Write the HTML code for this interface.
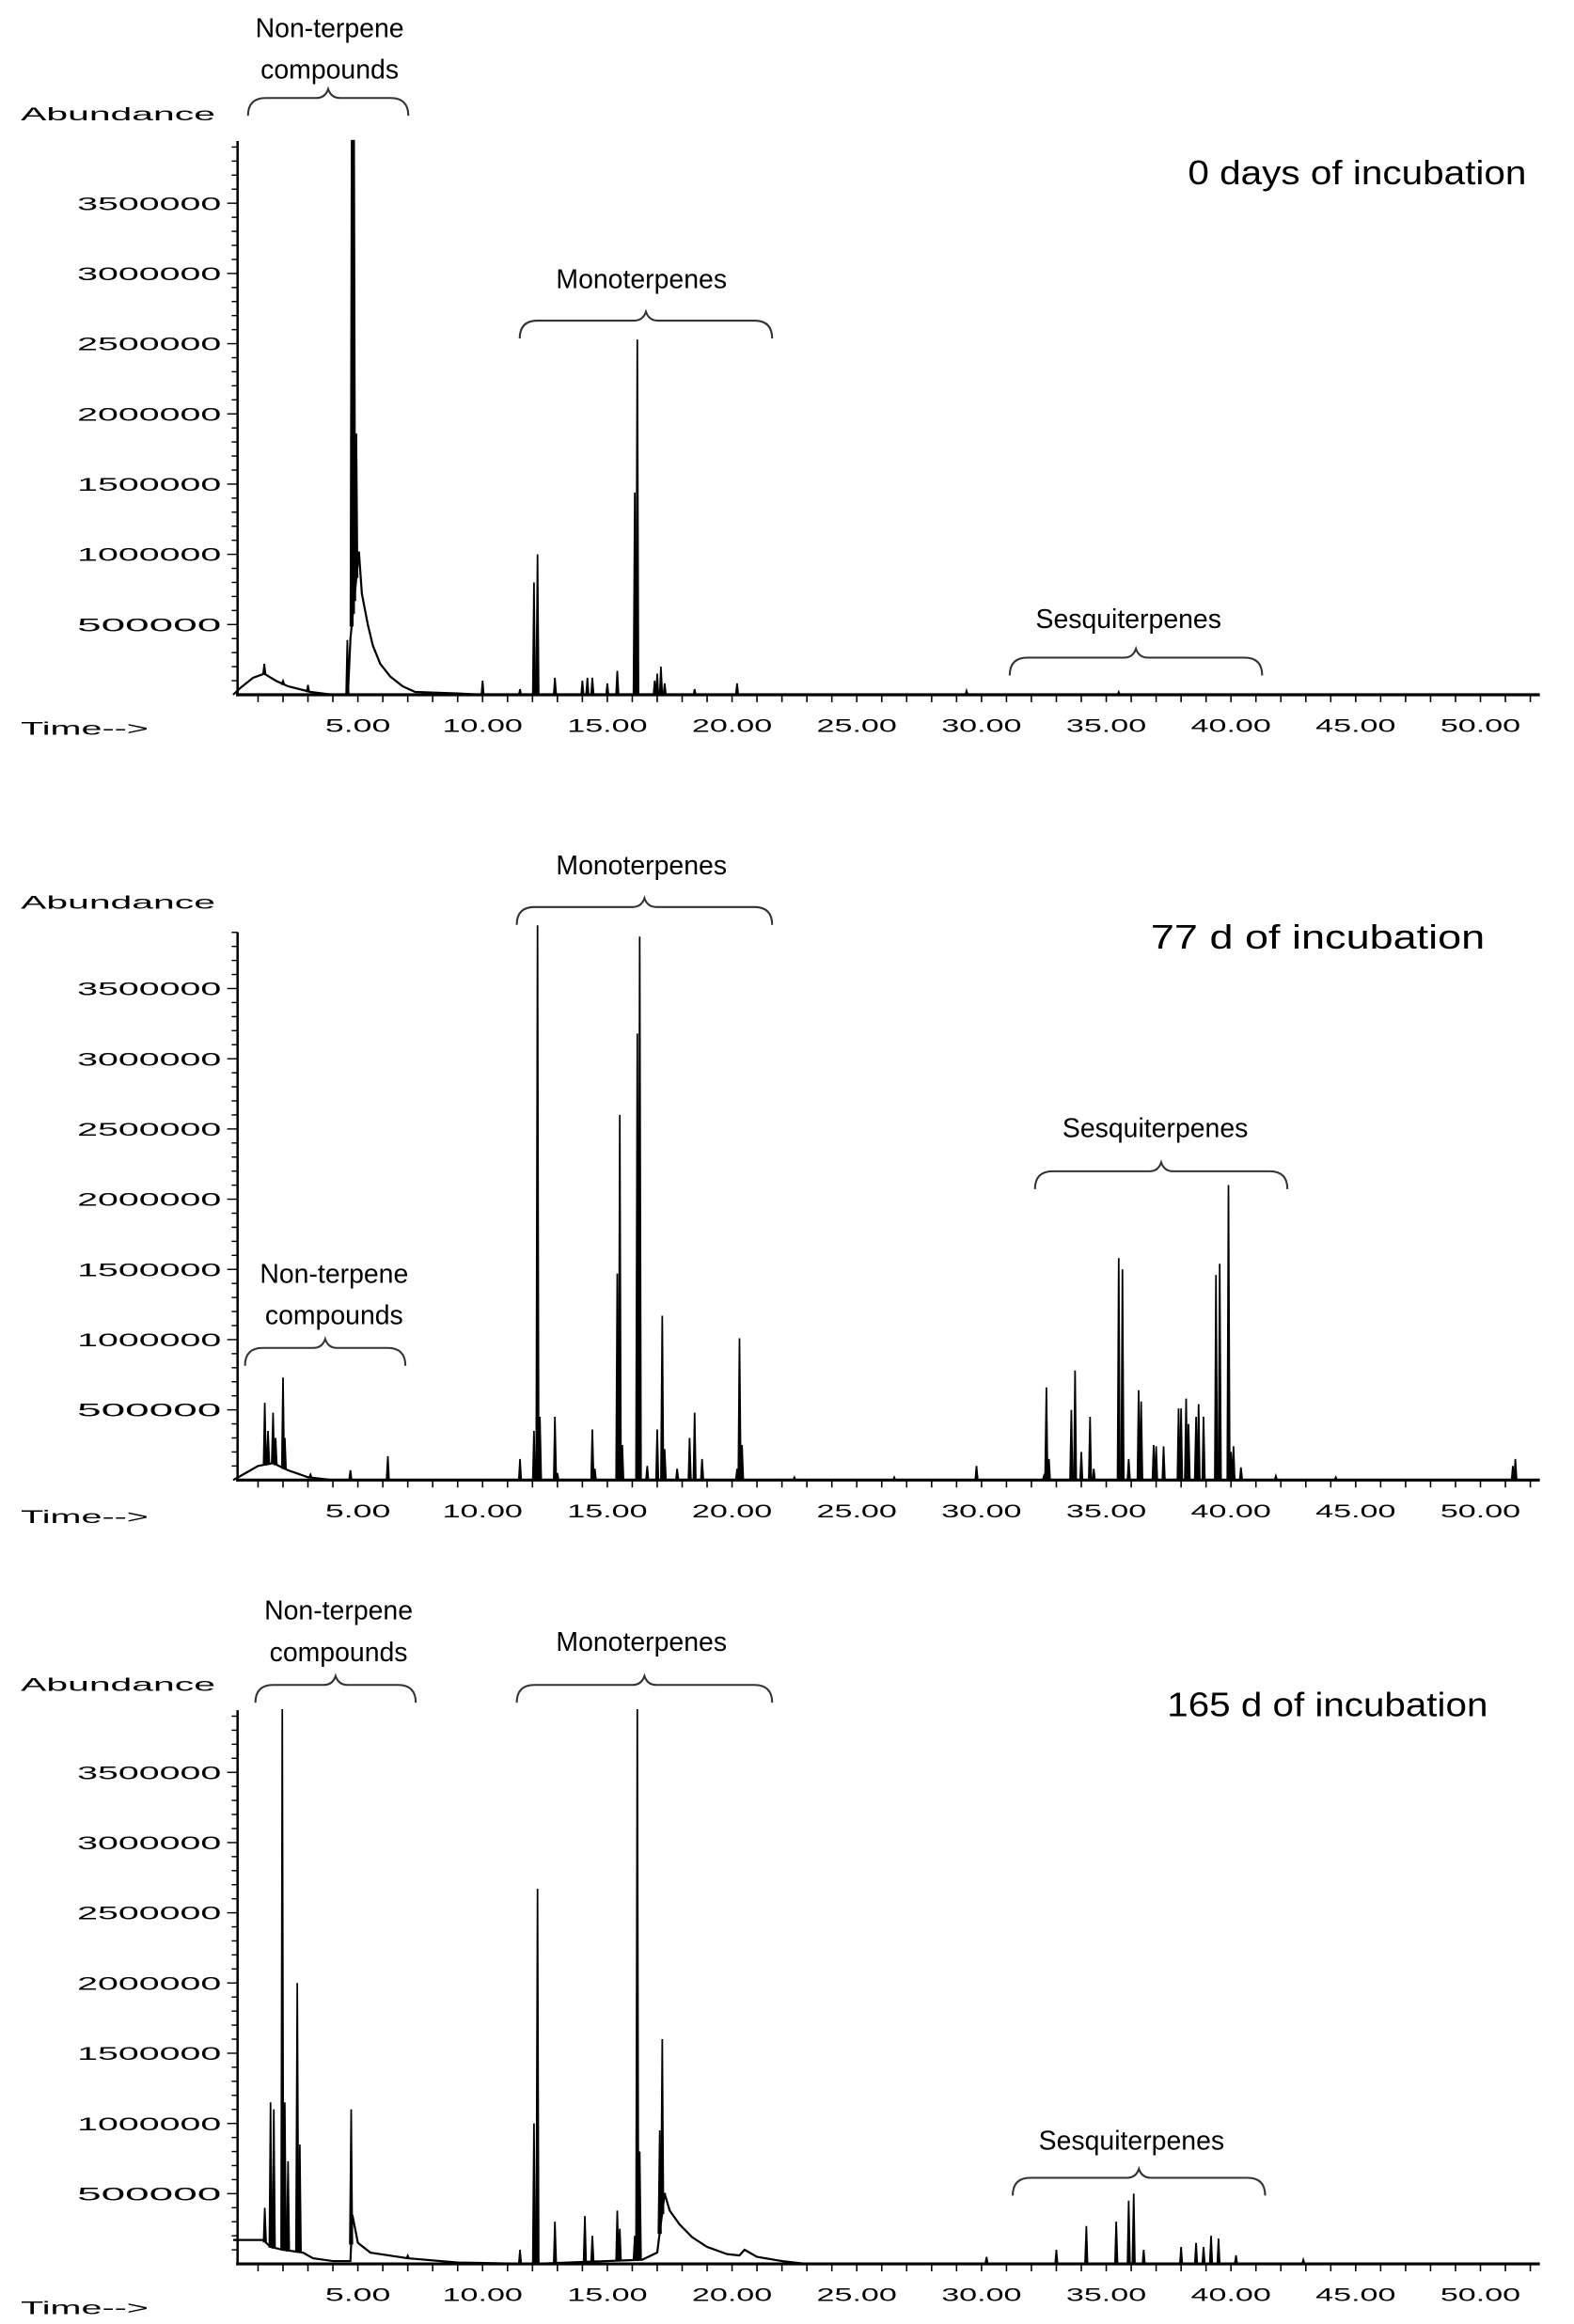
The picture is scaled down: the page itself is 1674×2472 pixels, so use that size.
<!DOCTYPE html>
<html><head><meta charset="utf-8"><style>
html,body{margin:0;padding:0;background:#fff;}
svg{display:block;}
text{font-family:"Liberation Sans",sans-serif;fill:#000;}
</style></head><body>
<svg id="chart" width="1674" height="2472" viewBox="0 0 1060 1565.5" preserveAspectRatio="none" xmlns="http://www.w3.org/2000/svg"></svg>
<script>
// ---- data (time in min, abundance in millions) ----
const xTicksLabeled = [5,10,15,20,25,30,35,40,45,50];
const yTicks = [0.5,1.0,1.5,2.0,2.5,3.0,3.5];
const yTickLabels = ["500000","1000000","1500000","2000000","2500000","3000000","3500000"];
const panelTitles = ["0 days of incubation","77 d of incubation","165 d of incubation"];

const base0 = [[0,0],[0.3,0.05],[0.8,0.12],[1.25,0.15],[1.7,0.1],[2.2,0.06],[3.1,0.02],[4.0,0],[4.6,0],[4.7,0.4],[5.04,1.02],[5.16,0.72],[5.4,0.5],[5.6,0.35],[5.9,0.22],[6.3,0.13],[6.8,0.06],[7.3,0.02],[9,0.01],[10,0],[52,0]];
const peaks0 = [[1.25,0.22],[2.0,0.1],[3.0,0.07],[4.58,0.39],[4.75,3.95],[4.8,3.95],[4.85,3.95],[4.94,1.86],[10.0,0.1],[11.5,0.04],[12.06,0.8],[12.2,1.0],[12.9,0.12],[14.0,0.1],[14.2,0.12],[14.4,0.12],[15.0,0.08],[15.4,0.17],[16.1,1.44],[16.2,2.53],[16.9,0.1],[17.0,0.15],[17.15,0.2],[17.3,0.08],[18.5,0.04],[20.2,0.08],[29.4,0.03],[35.5,0.02]];

const base1 = [[0,0],[0.5,0.05],[1.0,0.1],[1.6,0.12],[2.2,0.07],[3.0,0.02],[4.0,0],[52,0]];
const peaks1 = [[1.27,0.55],[1.4,0.35],[1.6,0.48],[1.7,0.3],[2.0,0.73],[2.07,0.3],[3.1,0.04],[4.7,0.07],[6.2,0.17],[11.5,0.15],[12.06,0.35],[12.2,3.95],[12.3,0.45],[12.9,0.45],[13.0,0.05],[14.4,0.36],[14.5,0.08],[15.4,1.47],[15.5,2.6],[15.6,0.25],[16.2,3.18],[16.3,3.87],[16.6,0.1],[17.0,0.36],[17.2,1.17],[17.3,0.22],[17.8,0.08],[18.3,0.3],[18.5,0.48],[18.8,0.15],[20.2,0.08],[20.3,1.01],[20.4,0.25],[22.5,0.02],[26.5,0.02],[29.8,0.1],[32.5,0.03],[32.6,0.66],[32.7,0.15],[33.6,0.5],[33.75,0.78],[34.0,0.2],[34.35,0.45],[34.5,0.08],[35.5,1.58],[35.65,1.5],[35.9,0.15],[36.3,0.64],[36.4,0.56],[36.9,0.25],[37.0,0.24],[37.3,0.24],[37.9,0.51],[38.0,0.51],[38.2,0.58],[38.3,0.4],[38.6,0.45],[38.7,0.54],[38.9,0.45],[39.4,1.46],[39.55,1.54],[39.9,2.1],[40.0,0.2],[40.1,0.24],[40.4,0.09],[41.8,0.03],[44.2,0.02],[51.3,0.1],[51.4,0.15]];

const base2 = [[0,0.17],[1.2,0.17],[1.5,0.12],[2.0,0.1],[2.8,0.08],[3.2,0.04],[4.0,0.02],[4.7,0.02],[4.78,0.35],[5.0,0.15],[5.5,0.08],[7.0,0.04],[9,0.01],[12,0],[16.4,0.03],[17.0,0.08],[17.3,0.5],[17.5,0.38],[17.9,0.28],[18.4,0.19],[19.0,0.12],[19.8,0.07],[20.3,0.06],[20.5,0.1],[21.0,0.05],[22.0,0.02],[23,0],[52,0]];
const peaks2 = [[1.27,0.4],[1.5,1.15],[1.63,1.1],[1.97,3.95],[2.07,1.15],[2.2,0.73],[2.57,2.0],[2.67,0.85],[4.73,1.1],[7.0,0.06],[11.5,0.1],[12.06,1.0],[12.2,2.67],[12.9,0.3],[14.1,0.34],[14.4,0.2],[15.4,0.38],[15.5,0.25],[16.1,0.2],[16.2,3.95],[16.3,0.8],[17.1,0.95],[17.2,1.6],[17.3,0.5],[30.2,0.05],[33.0,0.1],[34.2,0.27],[35.4,0.3],[35.9,0.45],[36.1,0.5],[36.5,0.1],[38.0,0.12],[38.6,0.15],[38.9,0.12],[39.2,0.2],[39.5,0.18],[40.2,0.06],[42.9,0.03]];

const panels = [
  {y0:468, top:95, base:base0, peaks:peaks0, absY:76, timeY:490, title:[800,116,1028]},
  {y0:997, top:628, base:base1, peaks:peaks1, absY:607, timeY:1021, title:[775,631,1000]},
  {y0:1525, top:1152, base:base2, peaks:peaks2, absY:1134, timeY:1554, title:[786,1148,1002]}
];
const groupLabels = [
  [{lines:["Non-terpene","compounds"],cx:222,ty:[19,47],x1:167,x2:275,by:63},{lines:["Monoterpenes"],cx:432,ty:[188],x1:350,x2:520,by:213},{lines:["Sesquiterpenes"],cx:760,ty:[417],x1:680,x2:850,by:440}],
  [{lines:["Monoterpenes"],cx:432,ty:[583],x1:348,x2:520,by:608},{lines:["Sesquiterpenes"],cx:778,ty:[760],x1:697,x2:867,by:786},{lines:["Non-terpene","compounds"],cx:225,ty:[858,886],x1:165,x2:273,by:905}],
  [{lines:["Non-terpene","compounds"],cx:228,ty:[1085,1113],x1:172,x2:280,by:1132},{lines:["Monoterpenes"],cx:432,ty:[1106],x1:348,x2:520,by:1132},{lines:["Sesquiterpenes"],cx:762,ty:[1442],x1:682,x2:852,by:1464}]
];

// ---- drawing ----
const svg = document.getElementById('chart');
const NS = 'http://www.w3.org/2000/svg';
const X = t => 157 + 16.8*t;
const PXM = 94.6;
function mk(tag, attrs, parent){const e=document.createElementNS(NS,tag);for(const k in attrs)e.setAttribute(k,attrs[k]);(parent||svg).appendChild(e);return e;}
function baseAt(b,t){for(let i=1;i<b.length;i++){if(t<=b[i][0]){const a=b[i-1],c=b[i];const f=(t-a[0])/((c[0]-a[0])||1);return a[1]+f*(c[1]-a[1]);}}return b[b.length-1][1];}

panels.forEach((p,pi)=>{
  const g = mk('g',{});
  
  
  const Y = v => p.y0 - v*PXM;
  const ya = mk('line',{x1:160,y1:p.top,x2:160,y2:p.y0+1,stroke:'#000','stroke-width':1.6},g);
   
  const xa = mk('line',{x1:159,y1:p.y0,x2:1037,y2:p.y0,stroke:'#000','stroke-width':2},g);
   
  for(let k=1;k<=39;k++){ const v=k/10; const major=(k%5===0);
    mk('line',{x1:major?153:156,y1:Y(v),x2:160,y2:Y(v),stroke:'#000','stroke-width':0.9},g); }
  yTicks.forEach((v,i)=>{
    const t=mk('text',{x:52,y:Y(v)+4.5,'font-size':12,textLength:97,lengthAdjust:'spacingAndGlyphs'},g);
    t.textContent=yTickLabels[i];
     
  });
  for(let m=1;m<=52;m++){ mk('line',{x1:X(m),y1:p.y0,x2:X(m),y2:p.y0+5,stroke:'#000','stroke-width':1},g); }
  xTicksLabeled.forEach(v=>{
    const s=v.toFixed(2); const w=s.length===4?44:54;
    const t=mk('text',{x:X(v)-w/2,y:p.y0+25,'font-size':12,textLength:w,lengthAdjust:'spacingAndGlyphs'},g);
    t.textContent=s;
     
  });
  const ab=mk('text',{x:14,y:p.absY+5,'font-size':12,textLength:131,lengthAdjust:'spacingAndGlyphs'},g);
  ab.textContent='Abundance';
   
  const tm=mk('text',{x:14,y:p.timeY+5,'font-size':12,textLength:86,lengthAdjust:'spacingAndGlyphs'},g);
  tm.textContent='Time-->';
   
  const tt=mk('text',{x:p.title[0],y:p.title[1]+8,'font-size':23,textLength:p.title[2]-p.title[0],lengthAdjust:'spacingAndGlyphs'},g);
  tt.textContent=panelTitles[pi];
   
  const d = p.base.map((q,i)=>(i?'L':'M')+X(q[0]).toFixed(1)+','+Y(q[1]).toFixed(1)).join(' ');
  const bl = mk('path',{d:d,fill:'none',stroke:'#000','stroke-width':1.4},g);
   
  p.peaks.forEach(q=>{
    const b=baseAt(p.base,q[0]); const h=Math.min(q[1],3.95);
    const pts=[[X(q[0]-0.05),Y(b)],[X(q[0]),Y(h)],[X(q[0]+0.05),Y(b)]].map(a=>a[0].toFixed(1)+','+a[1].toFixed(1)).join(' ');
    const pk=mk('polygon',{points:pts,fill:'#000',stroke:'#000','stroke-width':1.1},g);
     
  });
  groupLabels[pi].forEach(gl=>{
    gl.lines.forEach((ln,li)=>{
      const t=mk('text',{x:gl.cx,y:gl.ty[li]+6,'font-size':18,'text-anchor':'middle'},g);
      t.textContent=ln;
       
    });
    const x1=gl.x1,x2=gl.x2,cx=(x1+x2)/2,by=gl.by;
    const br=mk('path',{d:`M${x1},${by+15} Q${x1},${by+3} ${x1+12},${by+3} L${cx-8},${by+3} Q${cx-2},${by+3} ${cx},${by-3} Q${cx+2},${by+3} ${cx+8},${by+3} L${x2-12},${by+3} Q${x2},${by+3} ${x2},${by+15}`,fill:'none',stroke:'#333','stroke-width':1.3},g);
     
  });
});
</script>
</body></html>
